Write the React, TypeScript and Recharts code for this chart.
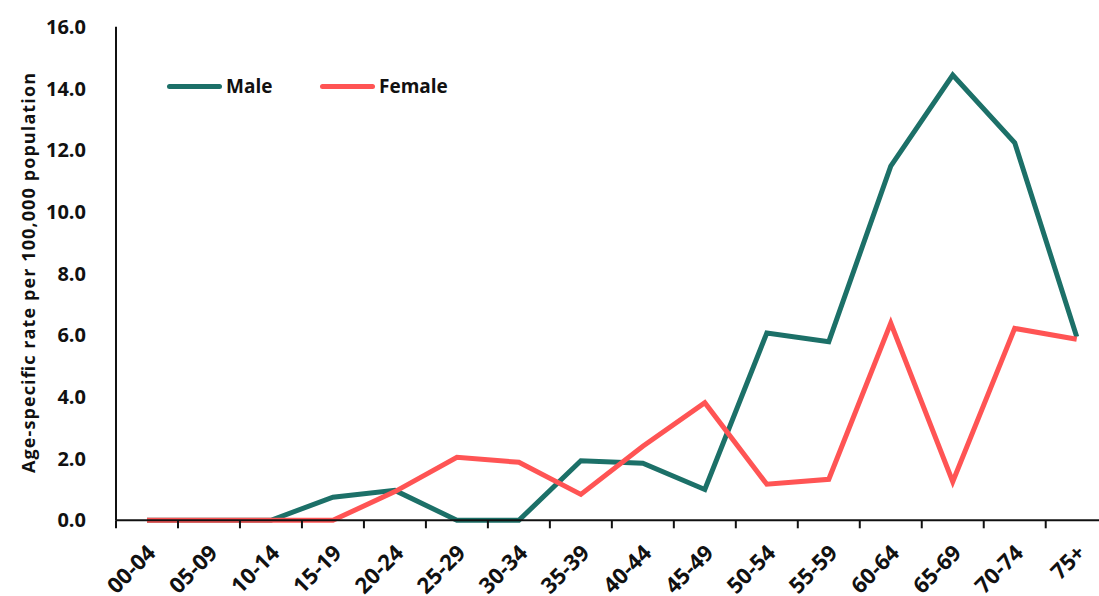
import React from "react";
import { LineChart, Line, XAxis, YAxis, Label } from "recharts";

const categories = ["00-04","05-09","10-14","15-19","20-24","25-29","30-34","35-39","40-44","45-49","50-54","55-59","60-64","65-69","70-74","75+"];
const maleValues = [0, 0, 0, 0.75, 0.97, 0, 0, 1.93, 1.85, 1.0, 6.07, 5.79, 11.48, 14.43, 12.24, 5.95];
const femaleValues = [0, 0, 0, 0, 0.93, 2.04, 1.88, 0.84, 2.4, 3.81, 1.17, 1.33, 6.39, 1.25, 6.22, 5.87];
const yTicks = [0, 2, 4, 6, 8, 10, 12, 14, 16];
const seriesNames = ["Male", "Female"];

const MALE = "#1c7068";
const FEMALE = "#ff5454";
const FONT = "'Open Sans', Lato, sans-serif";

const data = categories.map((c, i) => ({ idx: i, cat: c, male: maleValues[i], female: femaleValues[i] }));
const labelTicks = categories.map((_, i) => i);

const XTick = (props: any) => {
  const { x, y, payload, index, width } = props;
  const label = categories[payload.value] ?? "";
  const half = (width || 991.4) / categories.length / 2;
  const axisY = y;
  const lx = x + 10;
  const ly = y + 34;
  return (
    <g>
      <line x1={x - half} x2={x - half} y1={axisY} y2={axisY + 8} stroke="#111" strokeWidth={2} />
      {index === categories.length - 1 && (
        <line x1={x + half} x2={x + half} y1={axisY} y2={axisY + 8} stroke="#111" strokeWidth={2} />
      )}
      <text
        x={lx}
        y={ly}
        transform={`rotate(-45, ${lx}, ${ly})`}
        textAnchor="end"
        fontFamily={FONT}
        fontWeight="bold"
        fontSize={22}
        fill="#111"
      >
        {label}
      </text>
    </g>
  );
};

const legendItems = [
  { name: seriesNames[0], color: MALE, left: 167 },
  { name: seriesNames[1], color: FEMALE, left: 320 },
];

export default function App() {
  return (
    <div style={{ position: "absolute", left: 0, top: 0, width: 1099, height: 596, overflow: "hidden", background: "#fff" }}>
      <LineChart width={1118} height={596} data={data} margin={{ top: 26.7, right: 10.3, bottom: 5.7, left: 0 }}>
        <XAxis
          type="number"
          dataKey="idx"
          domain={[-0.5, 15.5]}
          ticks={labelTicks}
          interval={0}
          height={70}
          axisLine={{ stroke: "#111", strokeWidth: 2 }}
          tickLine={false}
          tickSize={0}
          tickMargin={0}
          tick={<XTick />}
          allowDataOverflow
        />
        <YAxis
          type="number"
          domain={[0, 16]}
          ticks={yTicks}
          width={116}
          interval={0}
          tickLine={false}
          axisLine={{ stroke: "#111", strokeWidth: 2 }}
          tickFormatter={(v: number) => v.toFixed(1)}
          tick={{ fontFamily: FONT, fontWeight: "bold", fontSize: 20, fill: "#111" }}
          tickMargin={24}
        >
          <Label
            content={() => (
              <text
                x={28}
                y={273}
                transform="rotate(-90, 28, 273)"
                textAnchor="middle"
                dominantBaseline="central"
                fontFamily={FONT}
                fontWeight="bold"
                fontSize={18}
                textLength={400}
                lengthAdjust="spacing"
                fill="#111"
              >
                Age-specific rate per 100,000 population
              </text>
            )}
          />
        </YAxis>
        <Line type="linear" dataKey="male" name="Male" stroke={MALE} strokeWidth={5} dot={false} isAnimationActive={false} strokeLinejoin="miter" />
        <Line type="linear" dataKey="female" name="Female" stroke={FEMALE} strokeWidth={5} dot={false} isAnimationActive={false} strokeLinejoin="miter" />
      </LineChart>
      {legendItems.map((e) => (
        <div
          key={e.name}
          style={{ position: "absolute", left: e.left, top: 71, height: 30, display: "flex", alignItems: "center", fontFamily: FONT, fontWeight: "bold", fontSize: 19, color: "#111" }}
        >
          <div style={{ width: 55, height: 5, background: e.color, borderRadius: 3 }} />
          <span style={{ marginLeft: 4 }}>{e.name}</span>
        </div>
      ))}
    </div>
  );
}
